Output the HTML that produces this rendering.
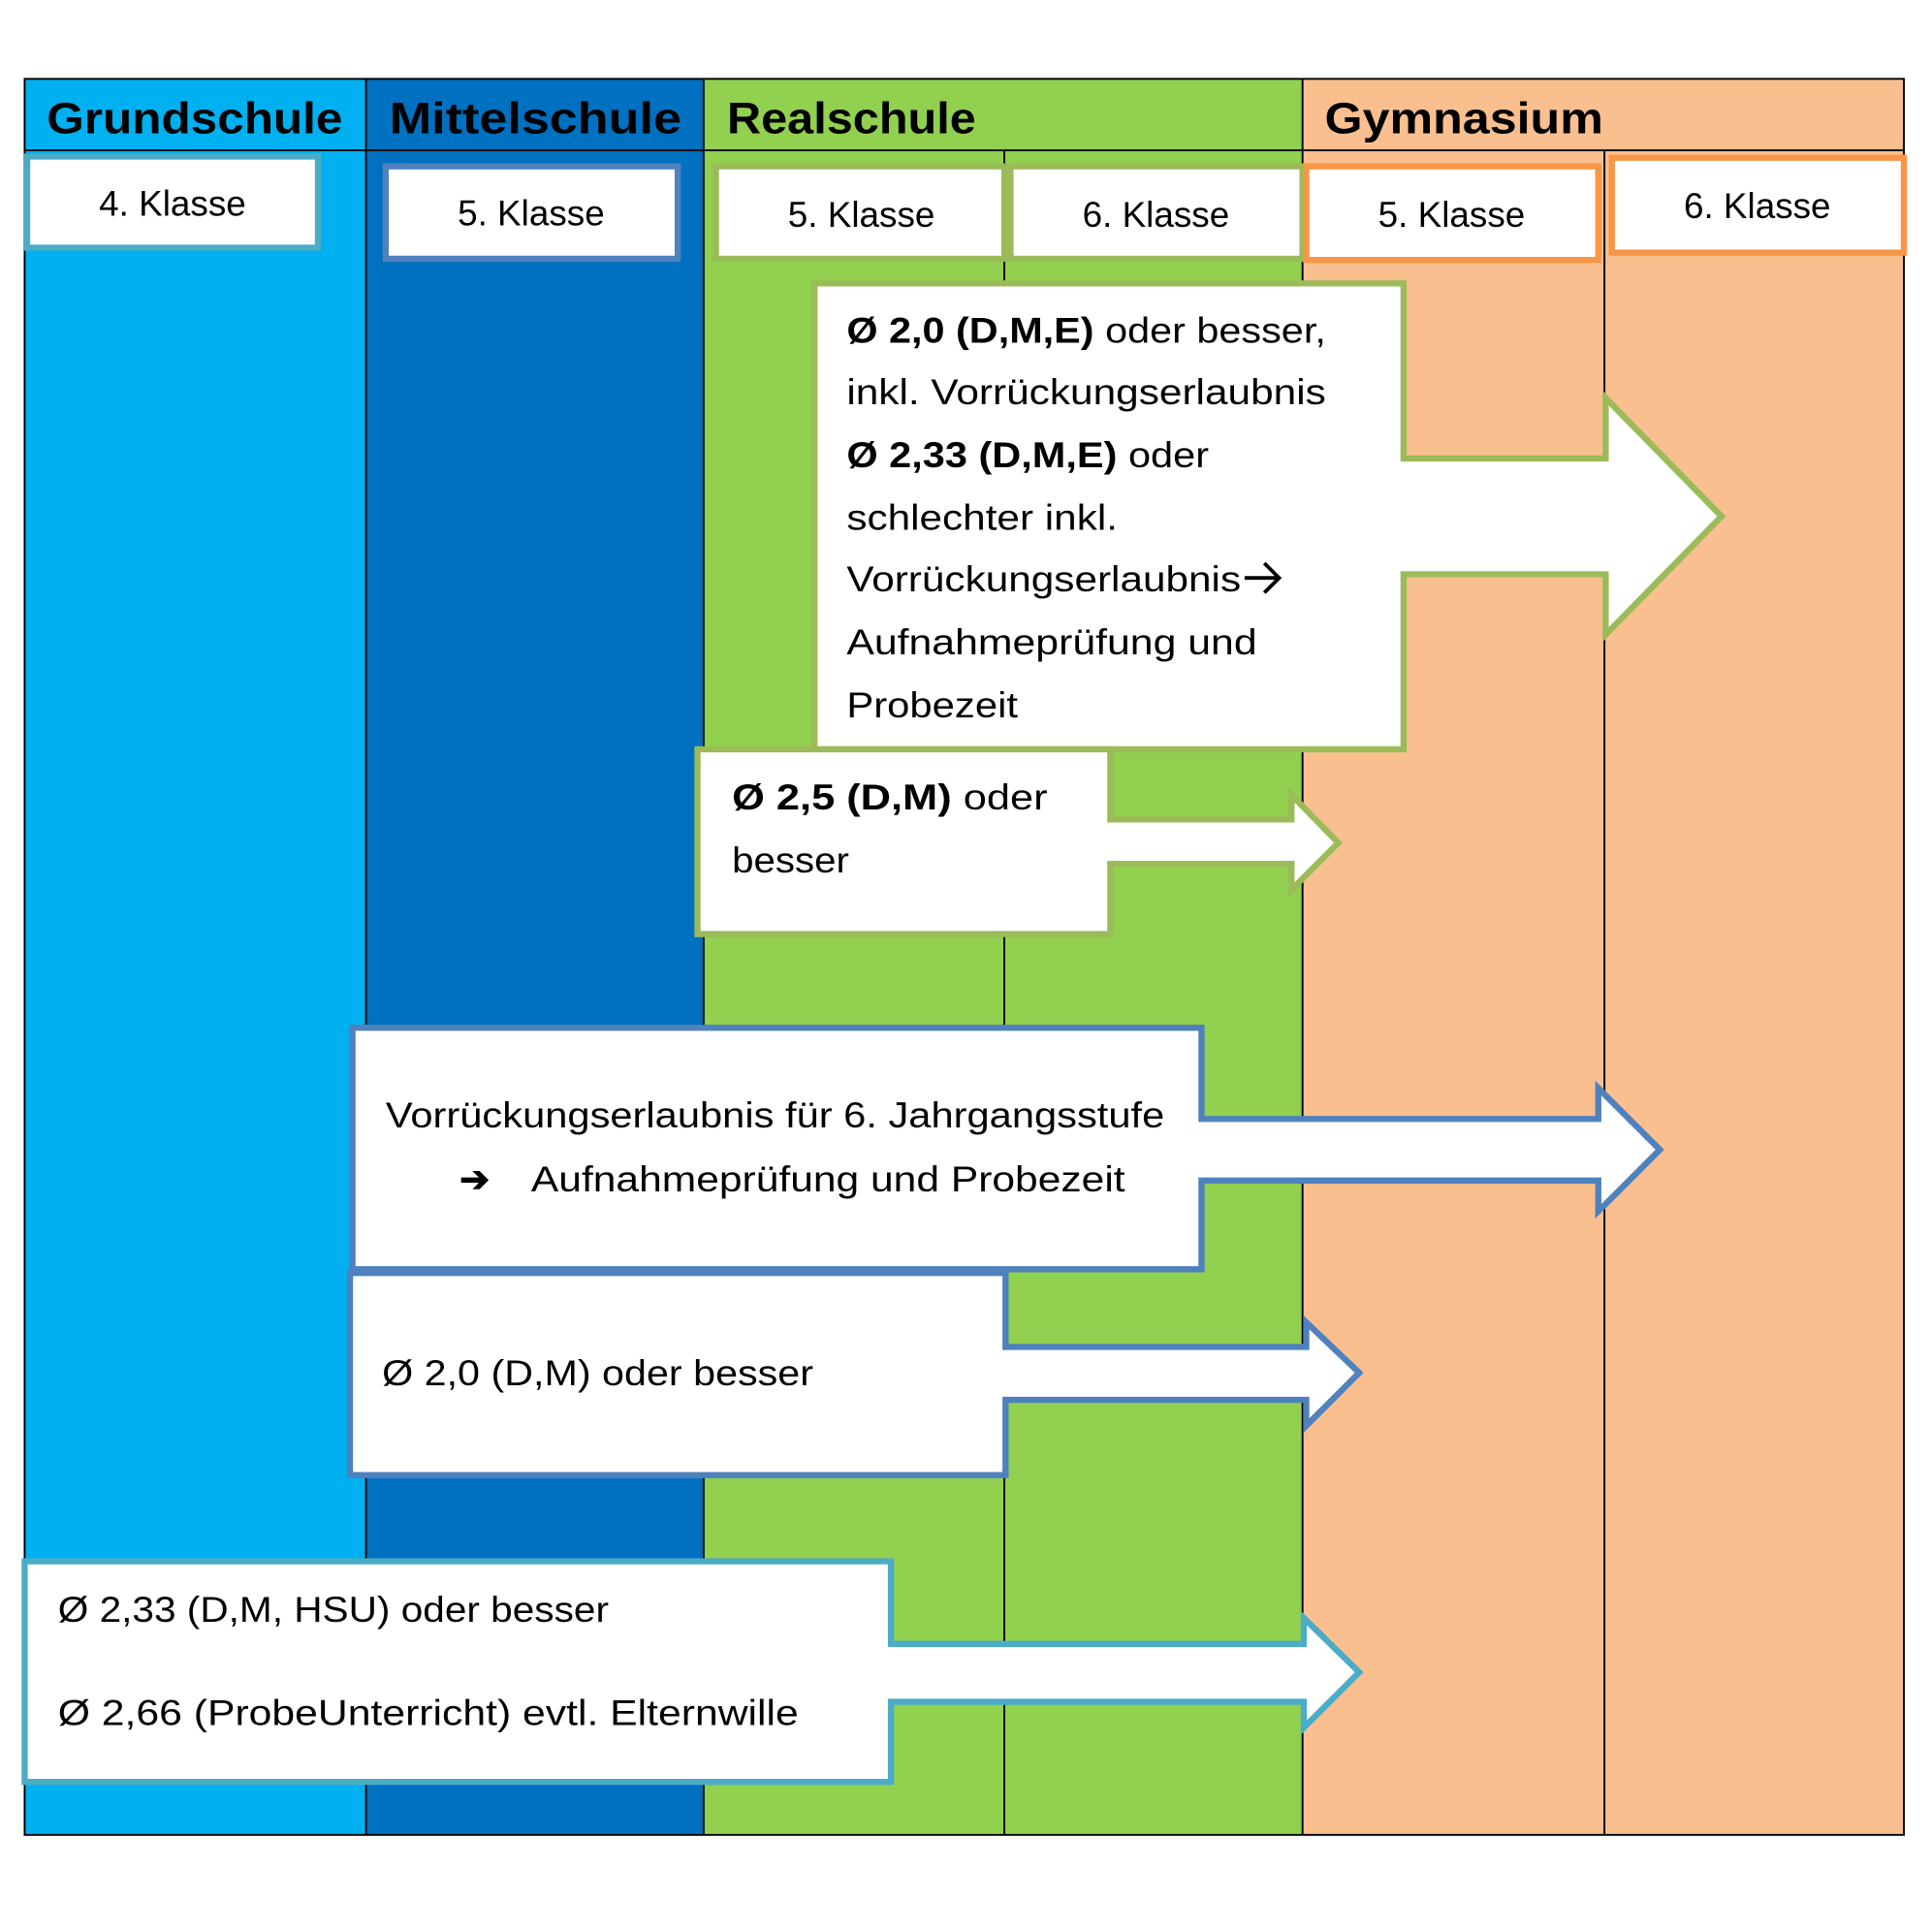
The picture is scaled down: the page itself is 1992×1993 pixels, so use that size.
<!DOCTYPE html>
<html><head><meta charset="utf-8"><style>html,body{margin:0;padding:0;background:#fff}svg{display:block}</style></head>
<body>
<svg width="1992" height="1993" viewBox="0 0 1567 1567.8" preserveAspectRatio="none" xmlns="http://www.w3.org/2000/svg" font-family="'Liberation Sans', sans-serif">
<rect x="0" y="0" width="1567" height="1568" fill="#fff"/>
<rect x="20" y="64" width="277" height="1425" fill="#00b0f0"/>
<rect x="297" y="64" width="274" height="1425" fill="#0070c0"/>
<rect x="571" y="64" width="486" height="1425" fill="#92d050"/>
<rect x="1057" y="64" width="488" height="1425" fill="#f9bf8f"/>
<g stroke="#000" stroke-width="1.5" fill="none">
<rect x="20" y="64" width="1525" height="1425"/>
<line x1="20" y1="122" x2="1545" y2="122"/>
<line x1="297" y1="64" x2="297" y2="1489"/>
<line x1="571" y1="64" x2="571" y2="1489"/>
<line x1="1057" y1="64" x2="1057" y2="1489"/>
<line x1="815" y1="122" x2="815" y2="1489"/>
<line x1="1302" y1="122" x2="1302" y2="1489"/>
</g>
<g font-weight="bold" font-size="36" fill="#000">
<text x="38" y="108" textLength="240" lengthAdjust="spacingAndGlyphs">Grundschule</text>
<text x="316" y="108" textLength="237" lengthAdjust="spacingAndGlyphs">Mittelschule</text>
<text x="590" y="108" textLength="202" lengthAdjust="spacingAndGlyphs">Realschule</text>
<text x="1075" y="108" textLength="226" lengthAdjust="spacingAndGlyphs">Gymnasium</text>
</g>
<g fill="#fff" stroke-width="5">
<rect x="22" y="127" width="236" height="74" stroke="#4bacc6"/>
<rect x="313" y="135" width="237" height="75" stroke="#4f81bd"/>
<rect x="581" y="135" width="234" height="75" stroke="#9bbb59"/>
<rect x="820" y="135" width="237" height="75" stroke="#9bbb59"/>
<rect x="1060" y="135" width="237" height="76" stroke="#f79646"/>
<rect x="1308" y="128" width="237" height="77" stroke="#f79646"/>
</g>
<g font-size="29" fill="#000" text-anchor="middle">
<text x="140" y="175">4. Klasse</text>
<text x="431" y="183">5. Klasse</text>
<text x="699" y="184">5. Klasse</text>
<text x="938" y="184">6. Klasse</text>
<text x="1178" y="184">5. Klasse</text>
<text x="1426" y="177">6. Klasse</text>
</g>
<g fill="#fff" stroke-width="5" stroke-linejoin="miter">
<polygon stroke="#9bbb59" points="661,230 1139,230 1139,372 1303,372 1303,323 1397,419 1303,515 1303,466 1139,466 1139,608 661,608"/>
<polygon stroke="#9bbb59" points="566,608 901,608 901,665 1048,665 1048,645 1086,684 1048,722 1048,701 901,701 901,758 566,758"/>
<polygon stroke="#4f81bd" points="286,834 975,834 975,908 1297,908 1297,883 1347,933 1297,983 1297,958 975,958 975,1030 286,1030"/>
<polygon stroke="#4f81bd" points="284,1033 816,1033 816,1093 1060,1093 1060,1073 1103,1114 1060,1157 1060,1136 816,1136 816,1197 284,1197"/>
<polygon stroke="#4bacc6" points="20,1267 723,1267 723,1334 1058,1334 1058,1313 1103,1357 1058,1402 1058,1381 723,1381 723,1446 20,1446"/>
</g>
<g font-size="29" fill="#000">
<text x="687" y="278" textLength="389" lengthAdjust="spacingAndGlyphs"><tspan font-weight="bold">Ø 2,0 (D,M,E)</tspan> oder besser,</text>
<text x="687" y="328" textLength="389" lengthAdjust="spacingAndGlyphs">inkl. Vorrückungserlaubnis</text>
<text x="687" y="379" textLength="294" lengthAdjust="spacingAndGlyphs"><tspan font-weight="bold">Ø 2,33 (D,M,E)</tspan> oder</text>
<text x="687" y="430" textLength="220" lengthAdjust="spacingAndGlyphs">schlechter inkl.</text>
<text x="687" y="480" textLength="320" lengthAdjust="spacingAndGlyphs">Vorrückungserlaubnis</text>
<path d="M1010 469 H1038 M1026 457 L1038 469 L1026 481" stroke="#000" stroke-width="3" fill="none"/>
<text x="687" y="531" textLength="333" lengthAdjust="spacingAndGlyphs">Aufnahmeprüfung und</text>
<text x="687" y="582" textLength="139" lengthAdjust="spacingAndGlyphs">Probezeit</text>
<text x="594" y="657" textLength="256" lengthAdjust="spacingAndGlyphs"><tspan font-weight="bold">Ø  2,5 (D,M)</tspan> oder</text>
<text x="594" y="708" textLength="95" lengthAdjust="spacingAndGlyphs">besser</text>
<text x="313" y="915" textLength="632" lengthAdjust="spacingAndGlyphs">Vorrückungserlaubnis für 6. Jahrgangsstufe</text>
<text x="373" y="967" font-weight="bold">➔</text>
<text x="431" y="967" textLength="482" lengthAdjust="spacingAndGlyphs">Aufnahmeprüfung und Probezeit</text>
<text x="310" y="1124" textLength="350" lengthAdjust="spacingAndGlyphs">Ø 2,0 (D,M) oder besser</text>
<text x="47" y="1316" textLength="447" lengthAdjust="spacingAndGlyphs">Ø 2,33 (D,M, HSU) oder besser</text>
<text x="47" y="1400" textLength="601" lengthAdjust="spacingAndGlyphs">Ø 2,66 (ProbeUnterricht) evtl. Elternwille</text>
</g>
</svg>
</body></html>
